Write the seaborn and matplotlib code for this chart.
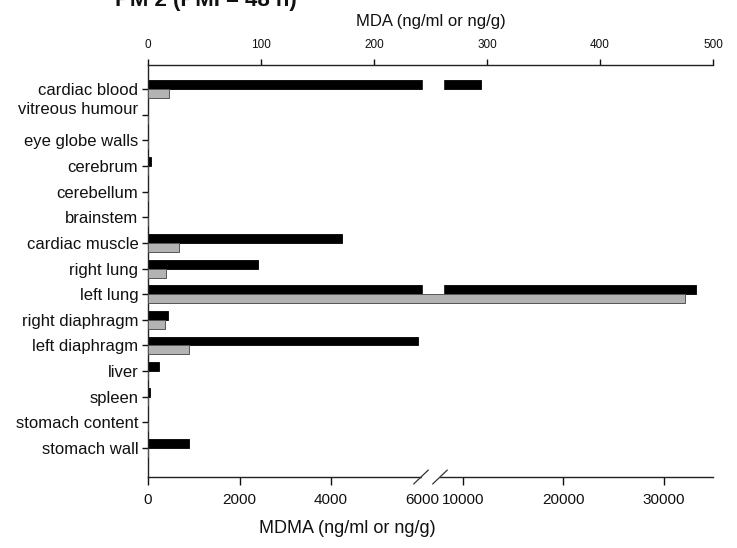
import numpy as np
import pandas as pd
import matplotlib.pyplot as plt
from matplotlib.transforms import ScaledTranslation
import seaborn as sns

# organ list, top to bottom
organs = ["cardiac blood", "vitreous humour", "eye globe walls", "cerebrum",
          "cerebellum", "brainstem", "cardiac muscle", "right lung", "left lung",
          "right diaphragm", "left diaphragm", "liver", "spleen",
          "stomach content", "stomach wall"]

# MDMA (bottom, broken axis) and MDA (top axis), ng/ml or ng/g
mdma = [11800, 0, 0, 60, 0, 0, 4250, 2400, 33200, 440, 5900, 230, 40, 0, 900]
mda = [19, 0, 0, 0, 0, 0, 27, 16, 475, 15, 36, 0, 0, 0, 0]

mdma_ticks = [0, 2000, 4000, 6000, 10000, 20000, 30000]
mda_ticks = [0, 100, 200, 300, 400, 500]

# broken scale for MDMA: compress everything above 6000
BREAK = 6000
K = 0.22


def fwd(x):
    x = np.asarray(x, dtype=float)
    return np.where(x <= BREAK, x, BREAK + (x - BREAK) * K)


def inv(y):
    y = np.asarray(y, dtype=float)
    return np.where(y <= BREAK, y, BREAK + (y - BREAK) / K)


sns.set_theme(style="ticks")
plt.rcParams["font.family"] = ["Liberation Sans", "DejaVu Sans"]

fig = plt.figure(figsize=(7.37, 5.48), dpi=100)
ax = fig.add_axes([148 / 737, 71 / 548, 565 / 737, 412 / 548])

pal = {"MDMA": "black", "MDA": "#b3b3b3"}
order = ["MDMA", "MDA"]

df = pd.DataFrame({
    "organ": organs * 2,
    "drug": ["MDMA"] * len(organs) + ["MDA"] * len(organs),
    "conc": mdma + mda,
})

# both series on both axes so they dodge, then keep only the one that
# belongs to each axis
sns.barplot(data=df, x="conc", y="organ", hue="drug", hue_order=order,
            palette=pal, orient="h", width=0.7, errorbar=None, legend=False,
            edgecolor="black", linewidth=0.6, ax=ax)
for p in list(ax.containers[1]):
    p.remove()

ax2 = ax.twiny()
sns.barplot(data=df, x="conc", y="organ", hue="drug", hue_order=order,
            palette=pal, orient="h", width=0.7, errorbar=None, legend=False,
            edgecolor="#555555", linewidth=0.7, ax=ax2)
for p in list(ax2.containers[0]):
    p.remove()

ax.set_ylim(len(organs) - 1 + 1.13, -0.94)

# bottom axis (MDMA)
ax.set_xscale("function", functions=(fwd, inv))
ax.set_xlim(0, inv(565 / (274.5 / 6000)))
ax.set_xticks(mdma_ticks)
ax.set_xticklabels([str(t) for t in mdma_ticks])
ax.xaxis.get_major_ticks()[3].tick1line.set_visible(False)
ax.tick_params(axis="x", direction="out", length=6, width=1, pad=5.5,
               labelsize=11, colors="#111111")
ax.tick_params(axis="y", direction="out", length=4, width=1, pad=3,
               labelsize=12, colors="#111111")
ax.set_xlabel("MDMA (ng/ml or ng/g)", fontsize=13, color="#111111")
ax.xaxis.set_label_coords((347 - 148) / 565, -0.105)
ax.set_ylabel("")

# top axis (MDA)
ax2.set_xlim(0, 500)
ax2.set_xticks(mda_ticks)
ax2.tick_params(axis="x", direction="out", length=4, width=1, pad=6,
                labelsize=8.5, colors="#111111")
ax2.set_xlabel("MDA (ng/ml or ng/g)", fontsize=12, color="#111111")
ax2.xaxis.set_label_coords(0.5, 1.095)
ax2.set_ylabel("")

for a in (ax, ax2):
    a.spines["right"].set_visible(False)
    for s in a.spines.values():
        s.set_linewidth(1)
        s.set_color("#222222")
ax.spines["top"].set_visible(False)
ax2.spines["bottom"].set_visible(False)
ax2.spines["left"].set_visible(False)

# gap in the black bars at the axis break
ax.axvspan(6050, 8050, ymin=0.03, ymax=0.97, color="white", zorder=3)

# break marks on the bottom axis
x1, x2 = (421 - 148) / 565, (440 - 148) / 565
ax.plot([x1 + 0.003, x2 - 0.003], [0, 0], color="white", lw=2.5,
        transform=ax.transAxes, clip_on=False, zorder=5)
for xc in (x1, x2):
    ax.plot([xc - 0.013, xc + 0.013], [-0.017, 0.017], color="#333333", lw=0.9,
            transform=ax.transAxes, clip_on=False, zorder=6)

# vitreous humour label sits a little above its tick
lab = ax.get_yticklabels()[1]
lab.set_transform(lab.get_transform() + ScaledTranslation(0, 7 / 100, fig.dpi_scale_trans))

# title, cut off at the top edge of the image
fig.text(115 / 737, 1 - 6 / 548, "PM 2 (PMI = 48 h)", fontsize=16,
         fontweight="bold", color="#111111", va="baseline")

fig.savefig("out.png", dpi=100)
